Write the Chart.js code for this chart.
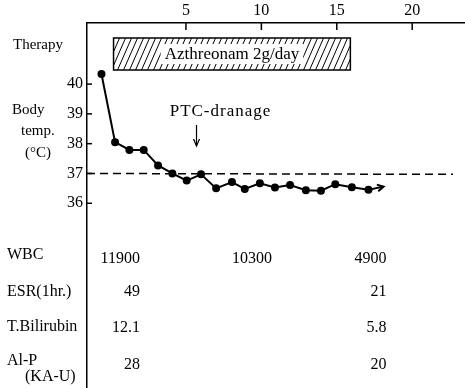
<!DOCTYPE html>
<html>
<head>
<meta charset="utf-8">
<script src="https://cdn.jsdelivr.net/npm/chart.js@4"></script>
<style>
  body { margin: 0; background: #fff; }
  #wrap { width: 465px; height: 388px; position: relative; }
</style>
</head>
<body>
<div id="wrap"><canvas id="chart"></canvas></div>
<script>
// body temperature (day, degC)
const days  = [-0.6, 0.3, 1.25, 2.2, 3.15, 4.1, 5.05, 6.0, 7.0, 8.05, 8.9, 9.9, 10.9, 11.9, 12.95, 13.95, 14.9, 16.0, 17.1];
const temps = [40.34, 38.05, 37.79, 37.79, 37.27, 37.0, 36.76, 36.97, 36.5, 36.71, 36.48, 36.67, 36.53, 36.61, 36.44, 36.42, 36.64, 36.54, 36.45];
const arrowDays  = [17.1, 18.1];
const arrowTemps = [36.45, 36.56];
const normalDays  = [-1.56, 22.7];
const normalTemps = [37.0, 36.97];

const dayTicks  = [5, 10, 15, 20];
const tempTicks = [36, 37, 38, 39, 40];

const therapyDays  = [0.2, 15.9];
const therapyLabel = 'Azthreonam 2g/day';
const ptcDay   = 5.7;
const ptcLabel = 'PTC-dranage';

// lab table
const labColumns = [1.95, 10.7, 18.3];   // day where each column of numbers ends
const labNames   = ['WBC', 'ESR(1hr.)', 'T.Bilirubin', 'Al-P'];
const wbc        = ['11900', '10300', '4900'];
const esr        = ['49', '', '21'];
const bilirubin  = ['12.1', '', '5.8'];
const alp        = ['28', '', '20'];

const serif = '"Liberation Serif", "DejaVu Serif", serif';
const ink = '#000';

const extras = {
    id: 'extras',
    afterDraw(chart) {
        const ctx = chart.ctx;
        const x = chart.scales.x, y = chart.scales.y;
        const area = chart.chartArea;
        ctx.save();
        ctx.strokeStyle = ink;
        ctx.fillStyle = ink;

        // inward tick marks
        ctx.lineWidth = 1.5;
        dayTicks.forEach(d => {
            const px = x.getPixelForValue(d);
            ctx.beginPath(); ctx.moveTo(px, area.top); ctx.lineTo(px, area.top + 7); ctx.stroke();
        });
        tempTicks.forEach(t => {
            const py = y.getPixelForValue(t);
            ctx.beginPath(); ctx.moveTo(area.left, py); ctx.lineTo(area.left + 5, py); ctx.stroke();
        });

        // therapy box with hatching
        const bx0 = x.getPixelForValue(therapyDays[0]), bx1 = x.getPixelForValue(therapyDays[1]);
        const by0 = 38, by1 = 70;
        ctx.save();
        ctx.beginPath(); ctx.rect(bx0, by0, bx1 - bx0, by1 - by0); ctx.clip();
        ctx.lineWidth = 1;
        for (let hx = bx0 - 20; hx < bx1 + 20; hx += 6) {
            ctx.beginPath(); ctx.moveTo(hx, by1); ctx.lineTo(hx + 14, by0); ctx.stroke();
        }
        ctx.font = '17px ' + serif;
        ctx.textAlign = 'center';
        ctx.textBaseline = 'middle';
        const cx = (bx0 + bx1) / 2;
        const tw = ctx.measureText(therapyLabel).width;
        ctx.fillStyle = '#fff';
        ctx.fillRect(cx - tw / 2 - 4, by0 + 6, tw + 8, by1 - by0 - 12);
        ctx.fillStyle = ink;
        ctx.fillText(therapyLabel, cx, (by0 + by1) / 2 + 1);
        ctx.restore();
        ctx.lineWidth = 1.5;
        ctx.strokeRect(bx0, by0, bx1 - bx0, by1 - by0);

        // arrow head at the end of the temperature line
        const am = chart.getDatasetMeta(2).data;
        const p0 = am[0], p1 = am[1];
        const ang = Math.atan2(p1.y - p0.y, p1.x - p0.x);
        ctx.lineWidth = 2;
        ctx.beginPath();
        ctx.moveTo(p1.x - 7 * Math.cos(ang - 0.5), p1.y - 7 * Math.sin(ang - 0.5));
        ctx.lineTo(p1.x, p1.y);
        ctx.lineTo(p1.x - 7 * Math.cos(ang + 0.5), p1.y - 7 * Math.sin(ang + 0.5));
        ctx.stroke();

        // PTC drainage note and arrow
        const ptx = x.getPixelForValue(ptcDay);
        ctx.font = '17px ' + serif;
        ctx.letterSpacing = '1px';
        ctx.textAlign = 'center';
        ctx.textBaseline = 'middle';
        ctx.fillText(ptcLabel, ptx + 24, 112);
        ctx.letterSpacing = '0px';
        ctx.lineWidth = 1.2;
        ctx.beginPath(); ctx.moveTo(ptx, 125); ctx.lineTo(ptx, 146); ctx.stroke();
        ctx.beginPath(); ctx.moveTo(ptx - 3, 139); ctx.lineTo(ptx, 146); ctx.lineTo(ptx + 3, 139); ctx.stroke();

        // left side labels
        ctx.textAlign = 'left';
        ctx.font = '15px ' + serif;
        ctx.fillText('Therapy', 13, 45);
        ctx.fillText('Body', 12, 110);
        ctx.fillText('temp.', 21, 131);
        ctx.fillText('(°C)', 25, 153);

        // lab table
        ctx.font = '16px ' + serif;
        const labelY = [255, 292, 327, 361];
        labNames.forEach((n, i) => ctx.fillText(n, 7, labelY[i]));
        ctx.fillText('(KA-U)', 25, 377);
        ctx.textAlign = 'right';
        const rows = [wbc, esr, bilirubin, alp];
        const rowY = [259, 292, 328, 365];
        rows.forEach((r, i) => {
            r.forEach((v, j) => {
                if (v) ctx.fillText(v, x.getPixelForValue(labColumns[j]), rowY[i]);
            });
        });
        ctx.restore();
    }
};

const pts = (xs, ys) => xs.map((d, i) => ({x: d, y: ys[i]}));

new Chart(document.getElementById('chart'), {
    type: 'line',
    data: {
        datasets: [
            {
                data: pts(days, temps),
                borderColor: ink, backgroundColor: ink,
                borderWidth: 2, pointRadius: 3, pointHoverRadius: 3, tension: 0
            },
            {
                data: pts(normalDays, normalTemps),
                borderColor: ink, borderWidth: 1.5, borderDash: [8, 5],
                pointRadius: 0, tension: 0
            },
            {
                data: pts(arrowDays, arrowTemps),
                borderColor: ink, borderWidth: 2, pointRadius: 0, tension: 0
            }
        ]
    },
    options: {
        responsive: true,
        maintainAspectRatio: false,
        animation: false,
        layout: { padding: 0, autoPadding: false },
        plugins: { legend: { display: false }, tooltip: { enabled: false } },
        scales: {
            x: {
                type: 'linear', position: 'top',
                min: -1.56, max: 23.5,
                afterBuildTicks: s => { s.ticks = dayTicks.map(v => ({value: v})); },
                afterFit: s => { s.height = 23; s.paddingLeft = 0; s.paddingRight = 0; },
                grid: { display: false, drawTicks: false },
                border: { display: true, color: ink, width: 1.5 },
                ticks: { color: ink, padding: 3, maxRotation: 0, font: { family: serif, size: 16 } }
            },
            y: {
                type: 'linear',
                min: 29.8, max: 42.05,
                afterBuildTicks: s => { s.ticks = tempTicks.map(v => ({value: v})); },
                afterFit: s => { s.width = 87; s.paddingTop = 0; s.paddingBottom = 0; },
                grid: { display: false, drawTicks: false },
                border: { display: true, color: ink, width: 1.5 },
                ticks: { color: ink, padding: 4, font: { family: serif, size: 16 } }
            }
        }
    },
    plugins: [extras]
});
</script>
</body>
</html>
